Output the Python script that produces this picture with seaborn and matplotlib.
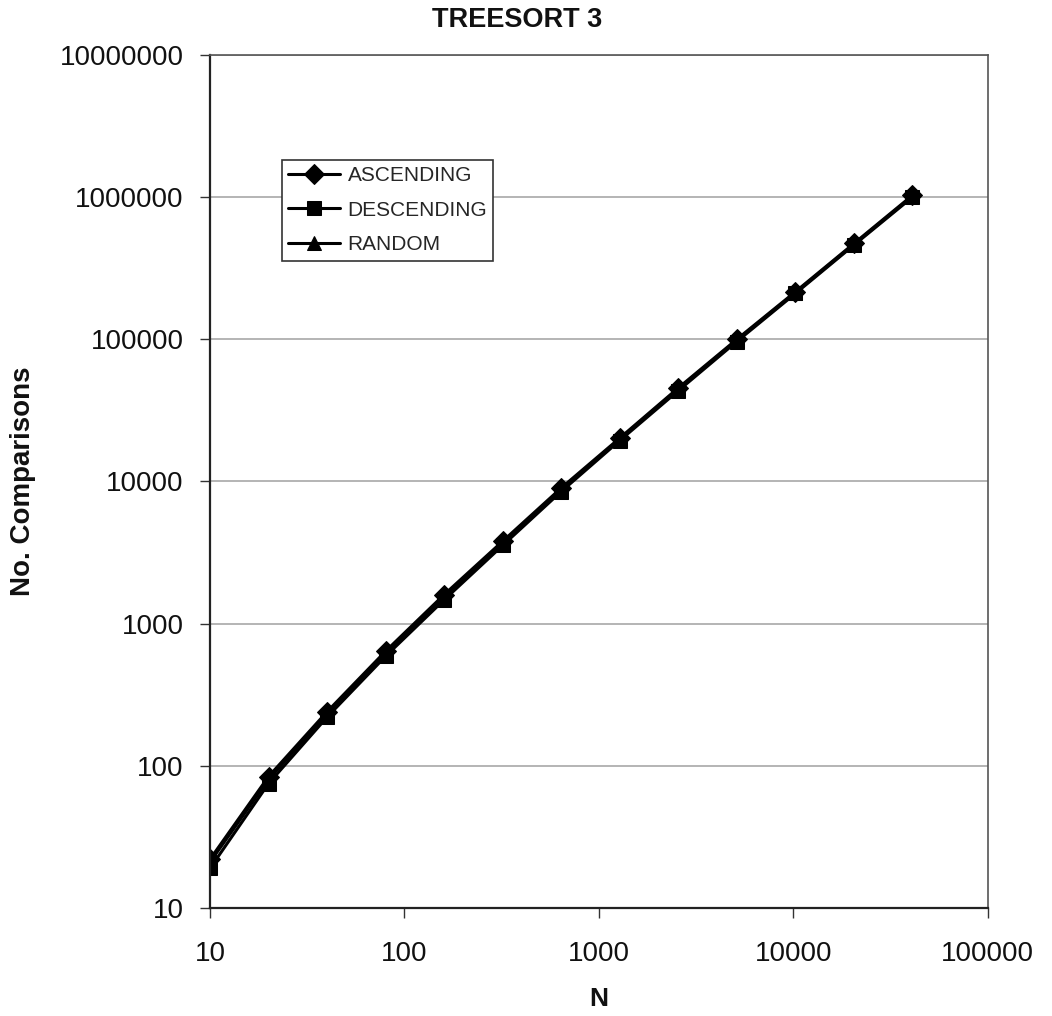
import matplotlib
matplotlib.use("Agg")
import matplotlib.pyplot as plt
import seaborn as sns
import pandas as pd
from matplotlib.ticker import FixedLocator, NullLocator, FixedFormatter

# Input sizes and comparison counts for each input ordering
n_values = [10, 20, 40, 80, 160, 320, 640, 1280, 2560, 5120, 10240, 20480, 40960]
ascending = [22, 84, 240, 640, 1600, 3800, 9000, 20200, 45500, 100000, 216000, 472000, 1030000]
descending = [19, 75, 220, 590, 1470, 3550, 8500, 19400, 43500, 96500, 210000, 460000, 1000000]
random_order = [21, 80, 232, 620, 1550, 3700, 8800, 19900, 44800, 98500, 213000, 466000, 1015000]

series_names = ["ASCENDING", "DESCENDING", "RANDOM"]
y_ticks = [10, 100, 1000, 10000, 100000, 1000000, 10000000]
x_ticks = [10, 100, 1000, 10000, 100000]

frames = []
for name, vals in zip(series_names, [ascending, descending, random_order]):
    frames.append(pd.DataFrame({"N": n_values, "Comparisons": vals, "Order": name}))
df = pd.concat(frames, ignore_index=True)

sns.set_theme(style="white")
plt.rcParams["font.family"] = ["Liberation Sans", "DejaVu Sans"]

fig = plt.figure(figsize=(10.52, 10.16), dpi=100)
ax = fig.add_axes([0.1996, 0.1063, 0.7394, 0.8396])

sns.lineplot(
    data=df, x="N", y="Comparisons", hue="Order", style="Order",
    markers={"ASCENDING": "D", "DESCENDING": "s", "RANDOM": "^"},
    dashes=False, palette=["black", "black", "black"],
    markersize=10, linewidth=2.2, markeredgecolor="black",
    ax=ax, legend=True,
)

ax.set_xscale("log")
ax.set_yscale("log")
ax.set_xlim(10, 100000)
ax.set_ylim(10, 10000000)

ax.xaxis.set_major_locator(FixedLocator(x_ticks))
ax.xaxis.set_major_formatter(FixedFormatter([str(v) for v in x_ticks]))
ax.xaxis.set_minor_locator(NullLocator())
ax.yaxis.set_major_locator(FixedLocator(y_ticks))
ax.yaxis.set_major_formatter(FixedFormatter([str(v) for v in y_ticks]))
ax.yaxis.set_minor_locator(NullLocator())

ax.tick_params(axis="both", which="major", direction="out", length=7, width=1,
               color="#333333", labelsize=20, labelcolor="#111111", pad=12, bottom=True, left=True)
ax.tick_params(axis="x", pad=17)

ax.yaxis.grid(True, color="#a8a8a8", linewidth=1.2)
ax.xaxis.grid(False)
ax.set_axisbelow(True)
for side in ["top", "right"]:
    ax.spines[side].set_color("#555555")
    ax.spines[side].set_linewidth(1.2)
for side in ["bottom", "left"]:
    ax.spines[side].set_color("#222222")
    ax.spines[side].set_linewidth(1.6)

ax.set_xlabel("")
ax.set_ylabel("")
fig.text(0.022, 0.5266, "No. Comparisons", rotation=90, ha="center", va="center",
         fontsize=20, fontweight="bold", color="#111111")
fig.text(0.569, 0.017, "N", ha="center", va="center",
         fontsize=19, fontweight="bold", color="#111111")
fig.text(0.4915, 0.980, "TREESORT 3", ha="center", va="center",
         fontsize=19.5, fontweight="bold", color="#111111")

handles, labels = ax.get_legend_handles_labels()
leg = ax.legend(handles, labels, loc="upper left", bbox_to_anchor=(0.0925, 0.877),
                fontsize=15, frameon=True, fancybox=False, edgecolor="#333333",
                framealpha=1, handlelength=2.5, labelspacing=0.75, borderpad=0.3,
                handletextpad=0.35, borderaxespad=0)
leg.get_frame().set_linewidth(1.2)

fig.savefig("out.png", dpi=100)
